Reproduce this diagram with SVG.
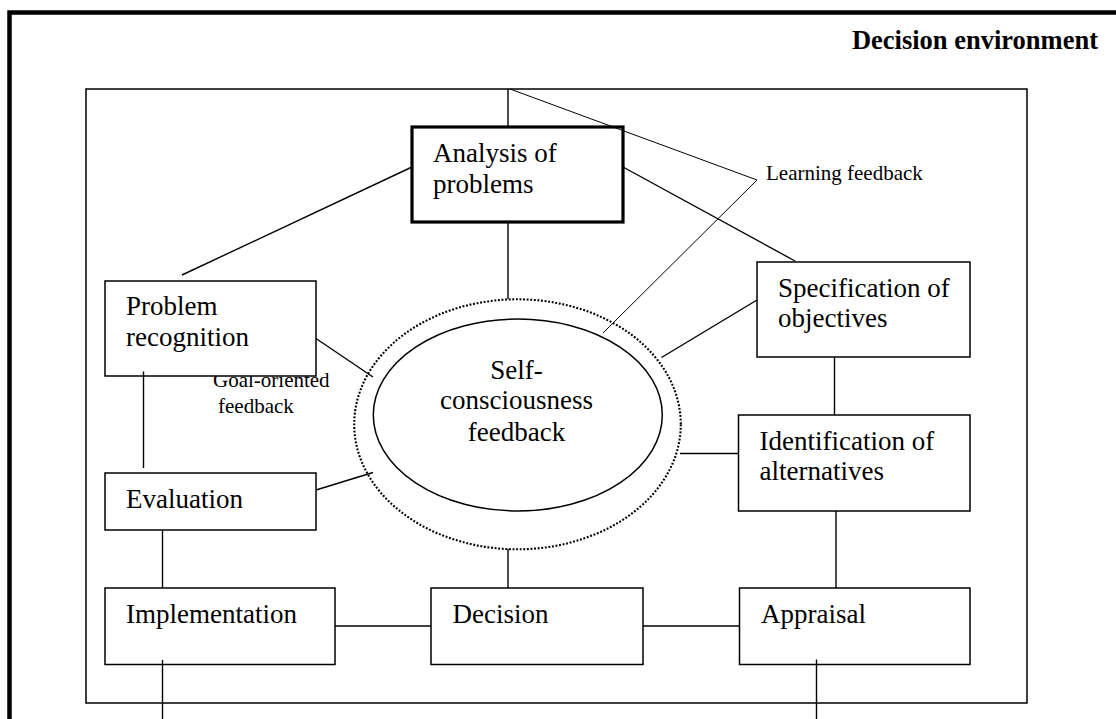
<svg xmlns="http://www.w3.org/2000/svg" width="1116" height="719" viewBox="0 0 1116 719">
  <style>
    text { font-family: "Liberation Serif", "Times New Roman", serif; fill: #000; }
    .node { font-size: 27px; }
    .small { font-size: 21px; }
    .title { font-size: 26.5px; font-weight: bold; }
    .box { fill: #fff; stroke: #000; stroke-width: 1.5; }
    .box-strong { fill: #fff; stroke: #000; stroke-width: 3.2; }
    .link { stroke: #000; stroke-width: 1.4; fill: none; }
    .thin { stroke: #000; stroke-width: 1; fill: none; }
  </style>

  <rect width="1116" height="719" fill="#fff"/>

  <!-- environment frame (open to the right and bottom) -->
  <path d="M9.5,719 V12.5 H1116" fill="none" stroke="#000" stroke-width="4.5"/>
  <text class="title" x="1098" y="49" text-anchor="end">Decision environment</text>

  <!-- inner process boundary -->
  <rect x="86" y="89" width="941" height="614" fill="none" stroke="#000" stroke-width="1.5"/>

  <!-- goal-oriented label sits beneath the recognition box -->
  <g id="label-goal">
    <text class="small" x="213" y="387">Goal-oriented</text>
    <text class="small" x="218" y="413">feedback</text>
  </g>

  <g id="center">
    <ellipse cx="517.5" cy="424.3" rx="163.3" ry="125" fill="none" stroke="#000" stroke-width="2.1" stroke-dasharray="1.9 1.7"/>
    <ellipse cx="517.8" cy="415" rx="144.5" ry="96" fill="#fff" stroke="#000" stroke-width="1.5"/>
    <text class="node" x="516.5" y="378.5" text-anchor="middle">Self-</text>
    <text class="node" x="516.5" y="409" text-anchor="middle">consciousness</text>
    <text class="node" x="516.5" y="440.5" text-anchor="middle">feedback</text>
  </g>

  <g id="analysis">
    <rect class="box-strong" x="412" y="127" width="211" height="95"/>
    <text class="node" x="433" y="162">Analysis of</text>
    <text class="node" x="433" y="193">problems</text>
  </g>

  <g id="recognition">
    <rect class="box" x="105" y="281" width="211" height="95"/>
    <text class="node" x="126" y="315">Problem</text>
    <text class="node" x="126" y="345.5">recognition</text>
  </g>

  <g id="objectives">
    <rect class="box" x="757" y="262" width="213" height="95"/>
    <text class="node" x="778" y="297">Specification of</text>
    <text class="node" x="778" y="327">objectives</text>
  </g>

  <g id="alternatives">
    <rect class="box" x="738.5" y="415" width="231.5" height="96"/>
    <text class="node" x="759.5" y="450">Identification of</text>
    <text class="node" x="759.5" y="480">alternatives</text>
  </g>

  <g id="evaluation">
    <rect class="box" x="105" y="473" width="211" height="57"/>
    <text class="node" x="126" y="507.5">Evaluation</text>
  </g>

  <g id="implementation">
    <rect class="box" x="105" y="588" width="230" height="76.5"/>
    <text class="node" x="126" y="623">Implementation</text>
  </g>

  <g id="decision">
    <rect class="box" x="431" y="588" width="212" height="76.5"/>
    <text class="node" x="452.5" y="623">Decision</text>
  </g>

  <g id="appraisal">
    <rect class="box" x="739.5" y="588" width="230.5" height="76.5"/>
    <text class="node" x="761" y="623">Appraisal</text>
  </g>

  <g id="connectors">
    <line class="link" x1="508" y1="89" x2="508" y2="127"/>
    <line class="link" x1="508" y1="222" x2="508" y2="299"/>
    <line class="link" x1="412" y1="167" x2="182" y2="275"/>
    <line class="link" x1="623" y1="167" x2="795" y2="261"/>
    <line class="link" x1="316" y1="338.5" x2="373" y2="377"/>
    <line class="link" x1="143.5" y1="371.5" x2="143.5" y2="468"/>
    <line class="link" x1="757" y1="300" x2="661.5" y2="357.5"/>
    <line class="link" x1="834.5" y1="357" x2="834.5" y2="415"/>
    <line class="link" x1="680" y1="453.5" x2="738.5" y2="453.5"/>
    <line class="link" x1="316" y1="490" x2="373" y2="472.5"/>
    <line class="link" x1="162.5" y1="530" x2="162.5" y2="588"/>
    <line class="link" x1="836" y1="511" x2="836" y2="588"/>
    <line class="link" x1="508" y1="549" x2="508" y2="588"/>
    <line class="link" x1="335" y1="626" x2="431" y2="626"/>
    <line class="link" x1="643" y1="626" x2="739.5" y2="626"/>
    <line class="link" x1="162.5" y1="660" x2="162.5" y2="719"/>
    <line class="link" x1="816.5" y1="659.5" x2="816.5" y2="719"/>
    <!-- learning feedback leader -->
    <polyline class="thin" points="510,89 757,180 603,333"/>
  </g>
  <text class="small" x="766" y="180">Learning feedback</text>
</svg>
